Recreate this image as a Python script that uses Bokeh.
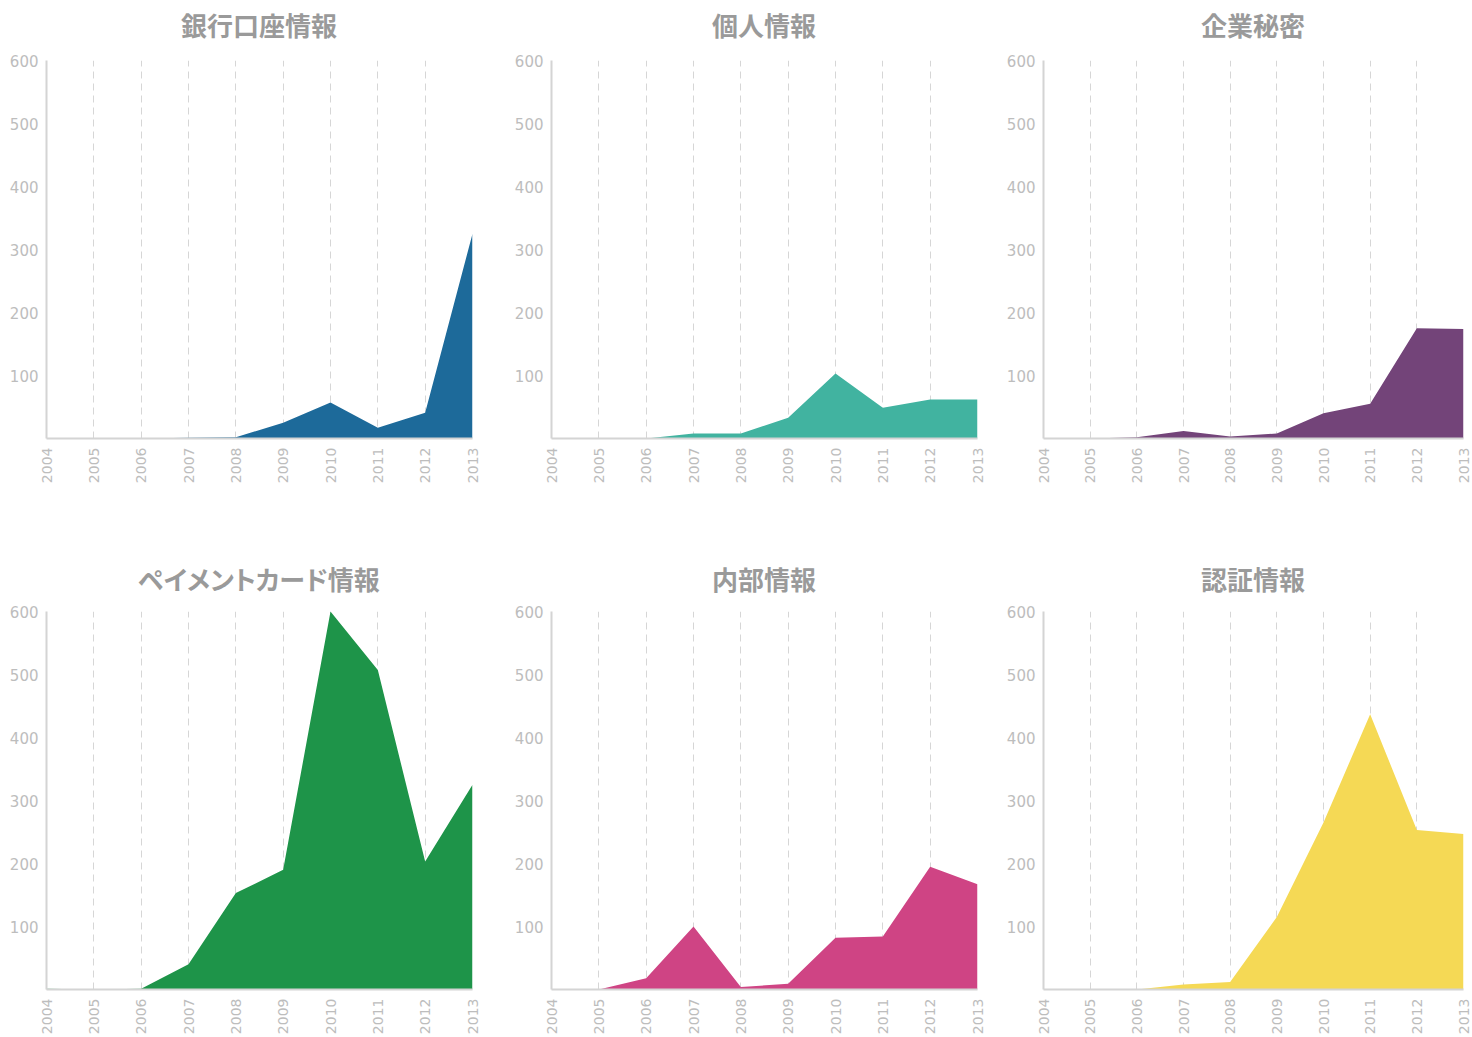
from math import pi

from bokeh.embed import file_html
from bokeh.layouts import column, row
from bokeh.models import Div, FixedTicker, Range1d
from bokeh.plotting import figure
from bokeh.resources import INLINE

# Years on the x axis
years = [2004, 2005, 2006, 2007, 2008, 2009, 2010, 2011, 2012, 2013]
year_labels = [str(y) for y in years]
y_ticks = [100, 200, 300, 400, 500, 600]

# Counts per category and year
bank_account = [0, 0, 0, 1, 2, 25, 57, 17, 41, 325]
personal_info = [0, 0, 0, 8, 8, 33, 103, 49, 62, 62]
trade_secrets = [0, 0, 2, 12, 3, 8, 40, 55, 175, 174]
payment_card = [1, 0, 1, 40, 153, 190, 600, 507, 203, 325]
internal_info = [0, 0, 18, 100, 4, 9, 82, 84, 195, 167]
credentials = [0, 0, 0, 8, 12, 115, 265, 437, 253, 247]

titles = ["銀行口座情報", "個人情報", "企業秘密", "ペイメントカード情報", "内部情報", "認証情報"]
series = [bank_account, personal_info, trade_secrets, payment_card, internal_info, credentials]
colors = ["#1d6a9a", "#41b3a0", "#734479", "#1e9449", "#cf4484", "#f5d955"]

TICK_FONT = "DejaVu Sans"
TICK_COLOR = "#bdbdbd"
AXIS_COLOR = "#d4d4d4"

# (figure width, left border, frame width) per column
col_geom = [(505, 46, 426), (492, 46, 426), (475, 46, 420)]
# (heading height, heading top padding, figure height, top border, frame height) per row
row_geom = [(50, 11, 500, 10, 378), (51, 15, 436, 10, 381)]


def make_heading(title, cg, rg):
    fw, left, frame_w = cg
    hh, pad, _, _, _ = rg
    html = (
        f'<div style="width:{frame_w}px;margin-left:{left}px;padding-top:{pad}px;'
        'text-align:center;font-family:\'Noto Sans CJK JP\';font-weight:bold;'
        'font-feature-settings:\'palt\';'
        f'font-size:26px;line-height:28px;color:#9a9a9a;">{title}</div>'
    )
    return Div(text=html, width=fw, height=hh, margin=(0, 0, 0, 0))


def make_panel(values, color, cg, rg):
    fw, left, frame_w = cg
    _, _, fh, top, frame_h = rg
    p = figure(
        width=fw,
        height=fh,
        output_backend="svg",
        toolbar_location=None,
        x_range=Range1d(2004, 2013),
        y_range=Range1d(0, 600),
        min_border_left=left,
        min_border_right=fw - left - frame_w,
        min_border_top=top,
        min_border_bottom=fh - top - frame_h,
        outline_line_color=None,
        background_fill_color="white",
        border_fill_color="white",
        margin=(0, 0, 0, 0),
    )
    p.varea(x=years, y1=[0] * len(years), y2=values, fill_color=color, fill_alpha=1.0)

    p.xaxis.ticker = FixedTicker(ticks=years)
    p.xaxis.major_label_overrides = {y: s for y, s in zip(years, year_labels)}
    p.xaxis.major_label_orientation = pi / 2
    p.yaxis.ticker = FixedTicker(ticks=y_ticks)

    for ax in (p.xaxis, p.yaxis):
        ax.axis_line_color = AXIS_COLOR
        ax.axis_line_width = 2
        ax.major_tick_line_color = None
        ax.minor_tick_line_color = None
        ax.major_label_text_font = TICK_FONT
        ax.major_label_text_color = TICK_COLOR
        ax.major_label_standoff = 4
    p.xaxis.major_label_text_font_size = "14px"
    p.xaxis.major_label_standoff = 3
    p.yaxis.major_label_text_font_size = "15px"
    p.yaxis.major_label_standoff = 2

    p.ygrid.grid_line_color = None
    p.xgrid.grid_line_color = "#d6d6d6"
    p.xgrid.grid_line_dash = "7 5"
    p.xgrid.grid_line_width = 1
    return p


cells = []
for i, (t, v, c) in enumerate(zip(titles, series, colors)):
    cg, rg = col_geom[i % 3], row_geom[i // 3]
    cells.append(column(make_heading(t, cg, rg), make_panel(v, c, cg, rg), spacing=0))

layout = column(row(*cells[:3], spacing=0), row(*cells[3:], spacing=0), spacing=0)

open("out.html", "w").write(file_html(layout, INLINE))
